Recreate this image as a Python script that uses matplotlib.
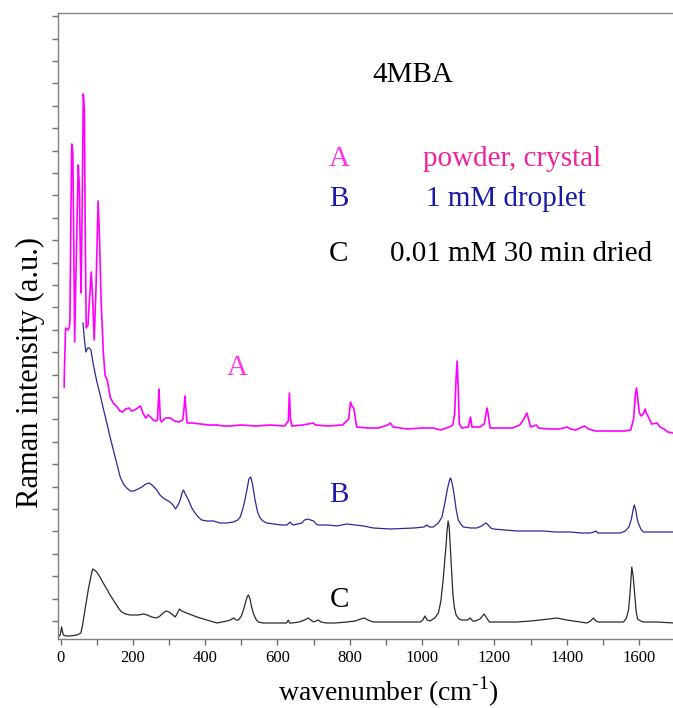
import numpy as np
import matplotlib
matplotlib.use("Agg")
import matplotlib.pyplot as plt

plt.rcParams['font.family'] = ['Liberation Serif', 'DejaVu Serif']
plt.rcParams['mathtext.fontset'] = 'custom'
plt.rcParams['mathtext.rm'] = 'Liberation Serif'

# spectrum A: powder, crystal (offset trace, a.u.)
wn_a = [10, 11, 14, 20, 24, 26, 28, 31, 34, 36, 39, 44, 49, 52, 55, 57, 60, 63, 66, 68,
        71, 76, 80, 85, 89, 93, 98, 104, 108, 112, 118, 123, 129, 138, 148, 157, 164, 171,
        180, 189, 197, 205, 213, 221, 228, 235, 242, 249, 256, 263, 268, 271, 272, 274, 276,
        279, 290, 304, 315, 327, 338, 342, 344, 347, 350, 365, 387, 410, 433, 450, 470,
        500, 540, 580, 620, 630, 633, 636, 640, 670, 699, 705, 740, 780, 797, 802, 806, 811,
        815, 819, 850, 880, 905, 912, 920, 960, 1000, 1031, 1051, 1075, 1085, 1090, 1094,
        1097, 1100, 1103, 1110, 1128, 1134, 1138, 1160, 1172, 1178, 1180, 1184, 1188, 1220,
        1250, 1270, 1280, 1290, 1296, 1300, 1316, 1322, 1350, 1380, 1402, 1410, 1425, 1449,
        1460, 1480, 1520, 1560, 1577, 1585, 1590, 1593, 1597, 1601, 1606, 1612, 1617, 1620,
        1626, 1635, 1650, 1658, 1669, 1680, 1694, 1700]
int_a = [252, 272, 311, 309, 311, 319, 400, 495, 487, 420, 297, 389, 474, 454, 380, 346, 439, 545, 529, 420,
         311, 314, 339, 367, 339, 299, 349, 438, 399, 341, 289, 264, 259, 241, 235, 232, 228, 227,
         230, 231, 228, 229, 231, 233, 226, 221, 224, 222, 219, 218, 219, 240, 250, 236, 219,
         217, 221, 221, 218, 217, 219, 232, 243, 230, 216, 216, 215, 214, 214, 213, 213,
         214, 213, 214, 213, 218, 246, 220, 213, 214, 216, 214, 213, 214, 220, 237, 233, 231,
         222, 212, 211, 211, 214, 216, 212, 210, 211, 211, 209, 212, 214, 225, 260,
         278, 250, 215, 211, 212, 222, 212, 212, 215, 228, 231, 222, 211, 211,
         211, 214, 219, 226, 218, 212, 214, 211, 210, 210, 212, 210, 209, 213,
         210, 208, 208, 208, 209, 220, 245, 251, 238, 226, 223, 225, 230, 226,
         222, 215, 216, 212, 210, 207, 206, 207]

# spectrum B: 1 mM droplet
wn_b = [62, 66, 70, 75, 80, 84, 91, 100, 109, 118, 128, 137, 146, 155, 165, 174, 183, 193, 203,
        214, 225, 236, 246, 256, 266, 275, 284, 293, 303, 311, 318, 325, 331, 336, 340, 345, 354,
        363, 372, 381, 390, 405, 423, 441, 460, 478, 490, 497, 504, 510, 516, 521, 526, 531, 538,
        545, 552, 560, 570, 590, 610, 626, 632, 635, 639, 644, 655, 667, 675, 683, 692, 700, 707,
        713, 740, 764, 792, 815, 838, 865, 912, 977, 1005, 1013, 1020, 1031, 1045, 1055, 1063,
        1070, 1076, 1079, 1083, 1088, 1094, 1100, 1107, 1114, 1135, 1151, 1165, 1172, 1177, 1183,
        1190, 1197, 1230, 1262, 1300, 1336, 1370, 1409, 1440, 1465, 1475, 1481, 1486, 1492, 1520,
        1548, 1562, 1572, 1579, 1584, 1587, 1591, 1595, 1598, 1605, 1612, 1640, 1670, 1694, 1700]
int_b = [316, 300, 287, 291, 291, 289, 274, 258, 245, 231, 216, 202, 189, 176, 162, 155, 151, 148, 148,
         150, 152, 155, 156, 153, 149, 144, 141, 139, 137, 134, 130, 134, 139, 146, 149, 145, 139,
         131, 126, 122, 119, 118, 118, 116, 116, 117, 119, 122, 130, 139, 150, 160, 162, 155, 139,
         127, 121, 118, 116, 115, 114, 114, 116, 117, 115, 114, 115, 116, 119, 120, 119, 118, 115,
         114, 114, 113, 115, 114, 113, 111, 110, 111, 112, 114, 112, 112, 116, 122, 136,
         150, 159, 161, 156, 146, 130, 119, 115, 112, 111, 111, 113, 115, 116, 114,
         111, 110, 109, 108, 108, 108, 107, 107, 106, 106, 107, 108, 106, 106, 106,
         106, 108, 112, 120, 130, 134, 129, 120, 116, 110, 107, 107, 107, 107, 107]

# spectrum C: 0.01 mM, 30 min dried
wn_c = [-6, -1, 1, 3, 5, 8, 15, 26, 45, 56, 60, 63, 68, 72, 77, 82, 86, 89, 94, 100, 109, 118,
        128, 137, 146, 155, 162, 169, 180, 192, 205, 215, 229, 240, 252, 266, 275, 284, 292, 300,
        308, 317, 322, 329, 335, 342, 349, 363, 377, 395, 414, 433, 447, 460, 470, 478, 486, 492,
        500, 506, 512, 517, 520, 524, 528, 533, 540, 547, 560, 580, 607, 625, 630, 634, 640, 660,
        675, 685, 692, 700, 706, 713, 720, 736, 760, 792, 815, 830, 840, 850, 865, 900, 958, 995,
        1002, 1008, 1014, 1022, 1035, 1045, 1052, 1059, 1063, 1066, 1069, 1072, 1075, 1079, 1082,
        1085, 1089, 1094, 1102, 1110, 1125, 1133, 1140, 1147, 1160, 1167, 1172, 1177, 1186, 1210,
        1262, 1300, 1327, 1350, 1373, 1400, 1419, 1440, 1456, 1466, 1474, 1481, 1488, 1520, 1557,
        1565, 1571, 1575, 1578, 1580, 1584, 1588, 1592, 1596, 1600, 1605, 1612, 1650, 1694, 1700]
int_c = [2, 4, 8, 12, 8, 4, 3, 3, 4, 6, 12, 19, 30, 39, 50, 59, 66, 70, 69, 67, 62, 56,
         50, 44, 39, 34, 30, 27, 25, 24, 24, 24, 25, 24, 22, 21, 23, 26, 28, 27,
         25, 22, 25, 30, 28, 27, 26, 24, 22, 20, 18, 16, 17, 18, 19, 21, 19, 19,
         23, 29, 37, 43, 44, 40, 33, 26, 20, 17, 16, 16, 16, 16, 19, 16, 16, 17,
         19, 21, 19, 17, 18, 19, 17, 16, 16, 17, 18, 20, 21, 19, 17, 17, 17, 17,
         19, 23, 19, 18, 21, 26, 38, 62, 80, 92, 108, 118, 112, 86, 66,
         46, 32, 24, 20, 19, 19, 21, 18, 18, 20, 23, 25, 22, 17, 17,
         17, 18, 19, 20, 21, 19, 18, 17, 16, 18, 21, 18, 17, 17, 17,
         21, 29, 45, 62, 72, 62, 45, 28, 20, 19, 18, 17, 17, 16, 16]

fig = plt.figure(figsize=(6.73, 7.08), dpi=100)
ax = fig.add_axes([58 / 673, 69 / 708, 615 / 673, 626 / 708])

ax.plot(wn_a, int_a, color='#ff00ff', lw=1.2)
ax.plot(wn_b, int_b, color='#2a2a95', lw=0.9)
ax.plot(wn_c, int_c, color='#2a2a2a', lw=0.9)

ax.set_xlim(-7, 1694)
ax.set_ylim(0, 626)

ax.set_xticks(np.arange(0, 1700, 200))
ax.set_xticks(np.arange(100, 1700, 200), minor=True)
ax.set_yticks(np.arange(18, 626, 22.4))
ax.set_yticklabels([])
ax.tick_params(axis='both', which='both', direction='out', length=4, width=1,
               color='#707070', labelsize=12, pad=4)

for side in ['left', 'bottom', 'top']:
    ax.spines[side].set_color('#808080')
    ax.spines[side].set_linewidth(1.0)
ax.spines['right'].set_visible(False)

# sample key
fs = 21
ax.text(862, 557, '4MBA', fontsize=fs, color='black')
ax.text(743, 473, 'A', fontsize=fs, color='#ff33ee')
ax.text(1003, 473, 'powder, crystal', fontsize=fs, color='#f0239a')
ax.text(743, 433, 'B', fontsize=fs, color='#1a1aa8')
ax.text(1011, 433, '1 mM droplet', fontsize=fs, color='#1a1aa8')
ax.text(743, 378, 'C', fontsize=fs, color='black')
ax.text(911, 378, '0.01 mM 30 min dried', fontsize=fs, color='black')

# trace labels
ax.text(461, 264, 'A', fontsize=fs, color='#ff33ee')
ax.text(743, 137, 'B', fontsize=fs, color='#1a1aa8')
ax.text(745, 32, 'C', fontsize=fs, color='black')

fig.text(30 / 673, 1 - 372 / 708, 'Raman intensity (a.u.)', rotation=90,
         ha='center', va='center', fontsize=22)
fig.text(388 / 673, 1 - 692 / 708, 'wavenumber (cm$^{\\mathrm{\u2010}1}$)',
         ha='center', va='center', fontsize=20)

fig.savefig('out.png', dpi=100)
